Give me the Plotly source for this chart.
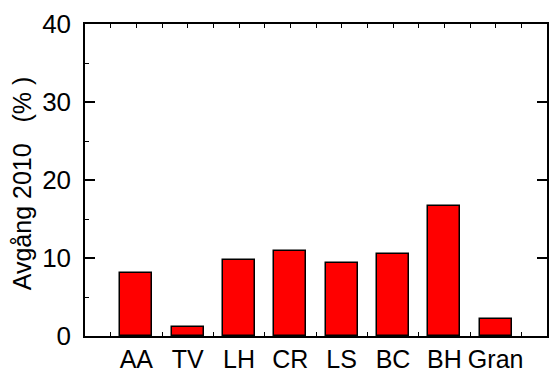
import plotly.graph_objects as go

# Data
categories = ["AA", "TV", "LH", "CR", "LS", "BC", "BH", "Gran"]
values = [8.1, 1.1, 9.8, 10.95, 9.3, 10.45, 16.65, 2.15]
y_ticks = [0, 10, 20, 30, 40]

positions = list(range(1, len(categories) + 1))
FONT = dict(family="Liberation Sans, Arial, sans-serif", size=26, color="black")
XFONT = dict(family=FONT["family"], size=25, color="black")

fig = go.Figure()
fig.add_trace(go.Bar(
    x=positions, y=values, width=0.62,
    marker=dict(color="#ff0000", line=dict(color="black", width=1.5)),
    showlegend=False,
))

xr = [0, len(categories) + 1]
yr = [0, 40]

fig.update_layout(
    width=550, height=371,
    margin=dict(l=85, r=3, t=24, b=35, autoexpand=False),
    paper_bgcolor="white", plot_bgcolor="white",
    font=FONT,
    bargap=0,
    xaxis=dict(
        range=xr, tickmode="array", tickvals=positions, ticktext=categories,
        ticks="", showline=True, linecolor="black", linewidth=1.5,
        showgrid=False, zeroline=False, layer="below traces",
        tickfont=XFONT, ticklabelstandoff=0, automargin=False,
        minor=dict(ticks="inside", tick0=0.5, dtick=1, ticklen=4,
                   tickwidth=1, tickcolor="black", showgrid=False),
    ),
    xaxis2=dict(
        range=xr, overlaying="x", side="top", showticklabels=False,
        tickmode="linear", tick0=0, dtick=0.5, ticks="inside", ticklen=4,
        tickwidth=1, tickcolor="black", automargin=False,
        showline=True, linecolor="black", linewidth=1.5,
        showgrid=False, zeroline=False,
    ),
    yaxis=dict(
        range=yr, tickmode="array", tickvals=y_ticks,
        ticks="inside", ticklen=10, tickwidth=1.5, tickcolor="black",
        showline=True, linecolor="black", linewidth=1.5,
        showgrid=False, zeroline=False, tickfont=FONT,
        ticklabelstandoff=7, automargin=False,
        minor=dict(ticks="inside", tick0=5, dtick=10, ticklen=4,
                   tickwidth=1, tickcolor="black", showgrid=False),
    ),
    yaxis2=dict(
        range=yr, overlaying="y", side="right", showticklabels=False,
        tickmode="array", tickvals=y_ticks, automargin=False,
        ticks="inside", ticklen=10, tickwidth=1.5, tickcolor="black",
        showline=True, linecolor="black", linewidth=1.5,
        showgrid=False, zeroline=False,
    ),
)

# Invisible helper trace so the top/right axes are drawn
fig.add_trace(go.Scatter(x=[None], y=[None], xaxis="x2", yaxis="y2",
                         showlegend=False, hoverinfo="skip"))

fig.add_annotation(
    text="Avgång 2010\u00a0\u00a0\u00a0(%\u00a0)",
    xref="paper", yref="paper", x=-0.136, y=0.49,
    xanchor="center", yanchor="middle", textangle=-90,
    showarrow=False, font=dict(family=FONT["family"], size=25, color="black"),
)

fig.write_html("out.html")
